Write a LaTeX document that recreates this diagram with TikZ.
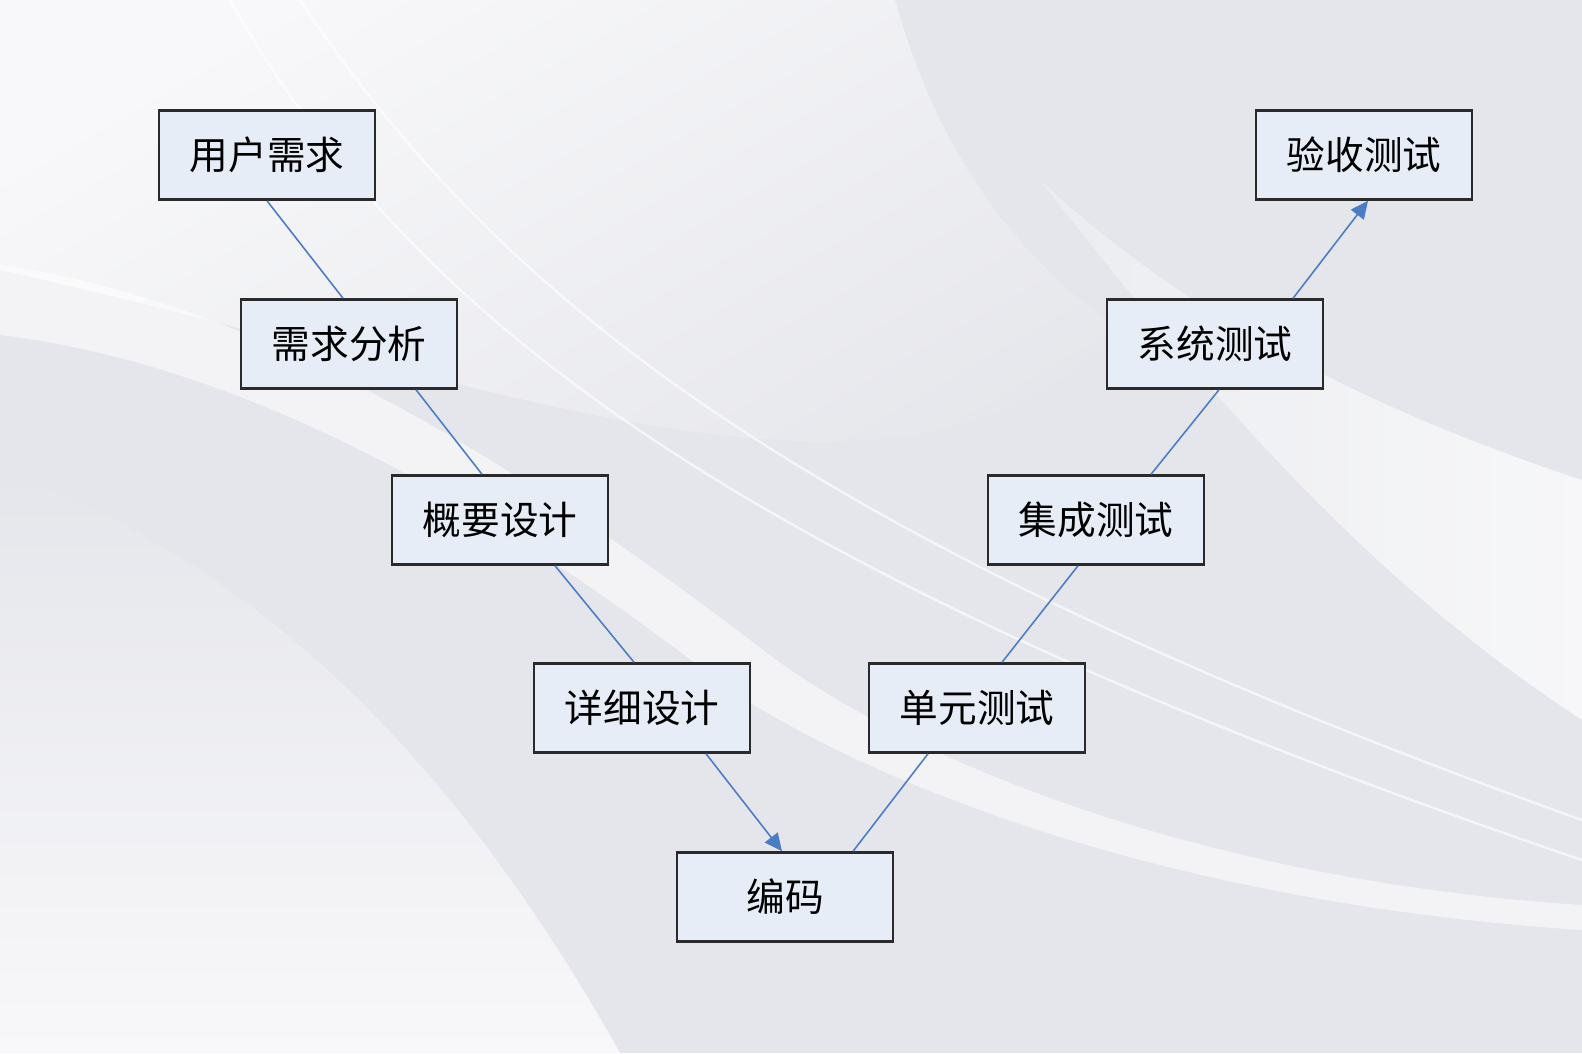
\documentclass[tikz,border=0pt]{standalone}
\usepackage{fontspec}
\newfontfamily\cjk{Noto Sans CJK SC}
\usepackage{tikz}
\usetikzlibrary{arrows.meta, positioning}
\definecolor{cBox}{HTML}{E7EDF7}
\definecolor{cEdge}{HTML}{2A2A2A}
\definecolor{cLink}{HTML}{4A7DC6}
\definecolor{cBase}{HTML}{E5E6EB}
\definecolor{cLight}{HTML}{F8F8FA}
\definecolor{cSoft}{HTML}{EFF0F3}
\tikzset{
  stage/.style={
    rectangle, draw=cEdge, line width=0.7pt, fill=cBox,
    minimum width=2.16cm, minimum height=0.89cm,
    inner sep=0pt, font=\cjk\fontsize{11}{13}\selectfont
  },
  link/.style={cLink, line width=0.45pt},
  flow/.style={link, -{Triangle[length=5pt, width=4.6pt]}},
  swoosh/.style={white, line width=0.7pt, opacity=0.6},
}

\begin{document}
\begin{tikzpicture}[x=0.01cm, y=-0.01cm]

  \useasboundingbox (0,0) rectangle (1582,1053);

  % Background swooshes
  \begin{scope}
    \clip (0,0) rectangle (1582,1053);
    \fill[cBase] (0,0) rectangle (1582,1053);
    \shade[top color=cLight, bottom color=cBase, shading angle=30]
      (0,0) -- (895,0) .. controls (940,160) and (1020,260) .. (1120,330)
      .. controls (900,560) and (500,380) .. (0,270) -- cycle;
    \shade[top color=cBase, bottom color=cLight]
      (0,470) .. controls (250,560) and (450,750) .. (620,1053) -- (0,1053) -- cycle;
    \fill[white, opacity=0.55]
      (0,265) .. controls (250,300) and (500,450) .. (750,640)
      .. controls (900,760) and (1200,880) .. (1582,905) -- (1582,930)
      .. controls (1200,905) and (900,800) .. (730,690)
      .. controls (500,510) and (250,365) .. (0,335) -- cycle;
    \shade[left color=cSoft, right color=white, opacity=0.7]
      (1040,180) .. controls (1200,330) and (1400,420) .. (1582,480) -- (1582,720)
      .. controls (1400,600) and (1250,450) .. (1040,180) -- cycle;
    \draw[swoosh] (230,0) .. controls (400,300) and (700,560) .. (1582,860);
    \draw[swoosh] (300,0) .. controls (500,300) and (800,540) .. (1582,820);
  \end{scope}

  % Left branch
  \node[stage] (yhxq) at (267,155) {用户需求};
  \node[stage] (xqfx) at (349,344) {需求分析};
  \node[stage] (gysj) at (500,520) {概要设计};
  \node[stage] (xxsj) at (642,708) {详细设计};

  % Bottom
  \node[stage] (bm) at (785,897) {编码};

  % Right branch
  \node[stage] (dycs) at (977,708)  {单元测试};
  \node[stage] (jccs) at (1096,520) {集成测试};
  \node[stage] (xtcs) at (1215,344) {系统测试};
  \node[stage] (yscs) at (1364,155) {验收测试};

  % Connectors
  \draw[link] (yhxq.south) -- ([xshift=-0.06cm]xqfx.north);
  \draw[link] ([xshift=0.67cm]xqfx.south) -- ([xshift=-0.18cm]gysj.north);
  \draw[link] ([xshift=0.55cm]gysj.south) -- ([xshift=-0.08cm]xxsj.north);
  \draw[flow] ([xshift=0.64cm]xxsj.south) -- ([xshift=-0.03cm]bm.north);
  \draw[link] ([xshift=0.68cm]bm.north) -- ([xshift=-0.49cm]dycs.south);
  \draw[link] ([xshift=0.25cm]dycs.north) -- ([xshift=-0.18cm]jccs.south);
  \draw[link] ([xshift=0.55cm]jccs.north) -- ([xshift=0.04cm]xtcs.south);
  \draw[flow] ([xshift=0.78cm]xtcs.north) -- ([xshift=0.04cm]yscs.south);

\end{tikzpicture}
\end{document}
